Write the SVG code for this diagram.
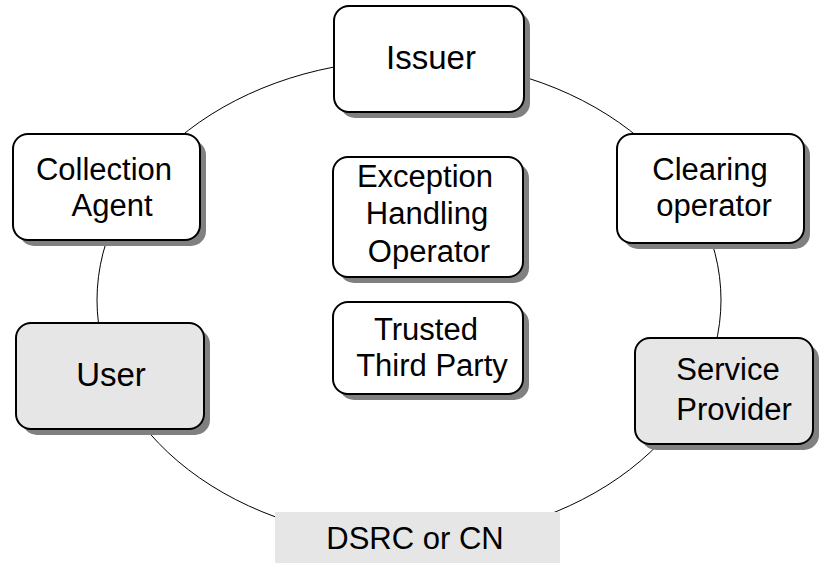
<svg xmlns="http://www.w3.org/2000/svg" width="820" height="563" viewBox="0 0 820 563">
  <style>
    .shadow { fill: #808080; }
    .box { stroke: #000; stroke-width: 2; }
    .white { fill: #ffffff; }
    .grey { fill: #e6e6e6; }
    .label { font-family: "Liberation Sans", Arial, sans-serif; font-size: 31px; fill: #000; text-anchor: middle; }
    .big { font-size: 33px; }
    .ring { fill: none; stroke: #000; stroke-width: 1; }
  </style>
  <rect width="820" height="563" fill="#ffffff"/>

  <!-- connecting ring -->
  <g id="connectors">
    <ellipse class="ring" cx="409" cy="300" rx="312" ry="240"/>
  </g>

  <g id="issuer">
    <rect class="shadow" x="340" y="12" width="190" height="106" rx="15"/>
    <rect class="box white" x="334" y="6" width="190" height="106" rx="15"/>
    <text class="label big" x="431" y="69">Issuer</text>
  </g>

  <g id="collection-agent">
    <rect class="shadow" x="19" y="140" width="187" height="106" rx="15"/>
    <rect class="box white" x="13" y="134" width="187" height="106" rx="15"/>
    <text class="label" x="104" y="180">Collection</text>
    <text class="label" x="112" y="216">Agent</text>
  </g>

  <g id="user">
    <rect class="shadow" x="22" y="329" width="188" height="106" rx="15"/>
    <rect class="box grey" x="16" y="323" width="188" height="106" rx="15"/>
    <text class="label big" x="111" y="386">User</text>
  </g>

  <g id="exception-handling-operator">
    <rect class="shadow" x="339" y="163" width="190" height="120" rx="15"/>
    <rect class="box white" x="333" y="157" width="190" height="120" rx="15"/>
    <text class="label" x="425" y="187">Exception</text>
    <text class="label" x="427" y="224">Handling</text>
    <text class="label" x="429" y="262">Operator</text>
  </g>

  <g id="trusted-third-party">
    <rect class="shadow" x="339" y="308" width="190" height="92" rx="15"/>
    <rect class="box white" x="333" y="302" width="190" height="92" rx="15"/>
    <text class="label" x="426" y="340">Trusted</text>
    <text class="label" x="432" y="376">Third Party</text>
  </g>

  <g id="clearing-operator">
    <rect class="shadow" x="623" y="140" width="187" height="109" rx="15"/>
    <rect class="box white" x="617" y="134" width="187" height="109" rx="15"/>
    <text class="label" x="710" y="180">Clearing</text>
    <text class="label" x="714" y="216">operator</text>
  </g>

  <g id="service-provider">
    <rect class="shadow" x="641" y="344" width="178" height="106" rx="15"/>
    <rect class="box grey" x="635" y="338" width="178" height="106" rx="15"/>
    <text class="label" x="728" y="380">Service</text>
    <text class="label" x="734" y="420">Provider</text>
  </g>

  <g id="dsrc-or-cn">
    <rect class="grey" x="275" y="512" width="285" height="51"/>
    <text class="label" x="415" y="549">DSRC or CN</text>
  </g>
</svg>
